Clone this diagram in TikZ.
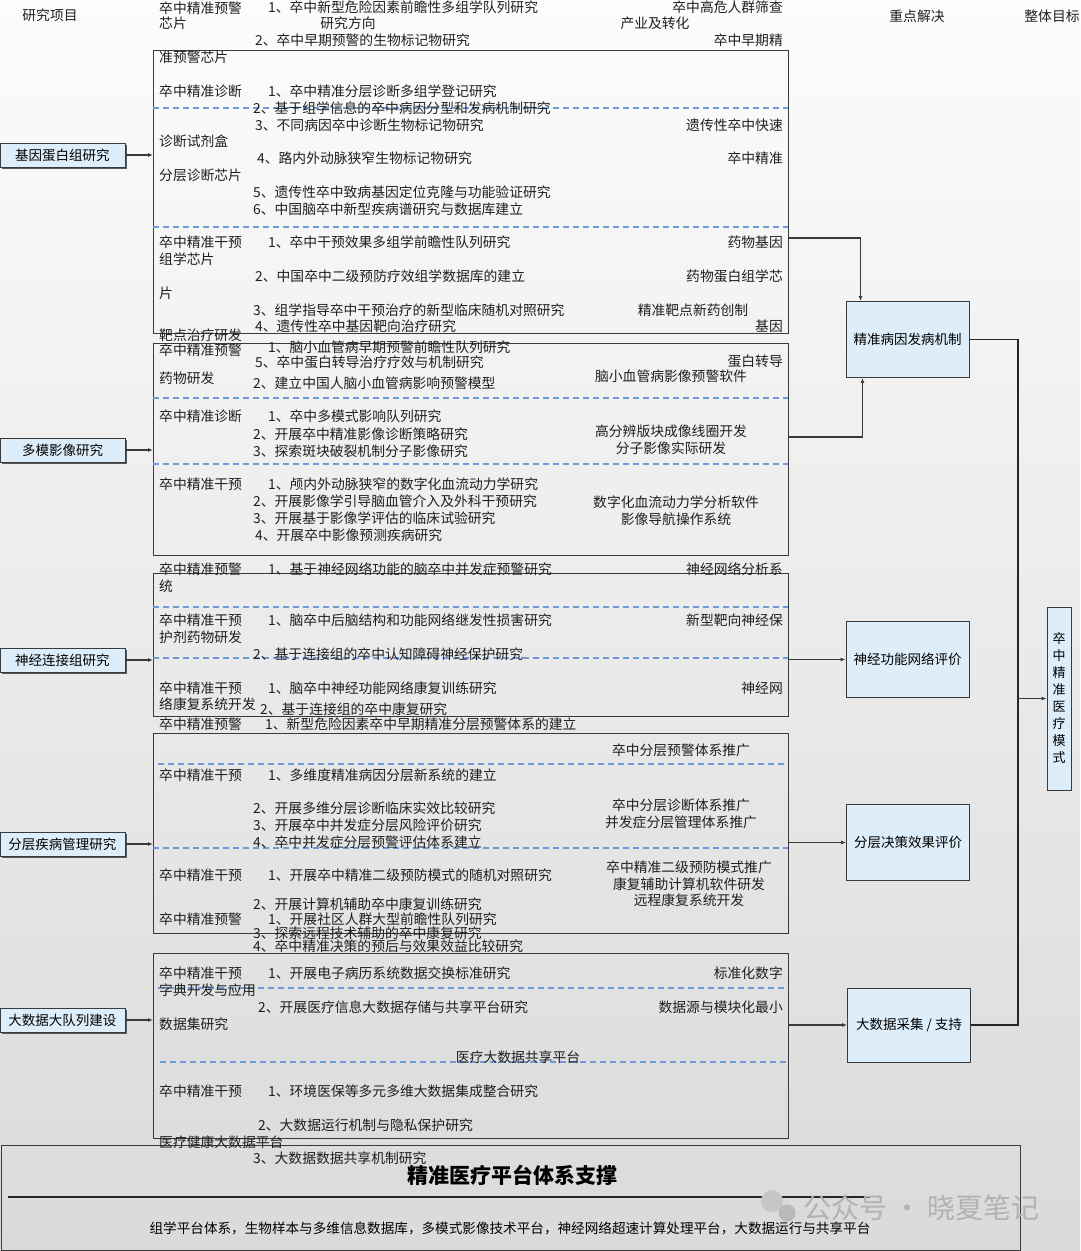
\documentclass[tikz,border=0pt]{standalone}
\usepackage{fontspec}
\setmainfont{Noto Sans CJK SC}
\usetikzlibrary{arrows.meta,shadows}
\definecolor{bgtop}{HTML}{FCFCFC}
\definecolor{bgbot}{HTML}{DADADA}
\definecolor{boxfill}{HTML}{DDEEFA}
\definecolor{dashblue}{HTML}{6E9BD8}
\definecolor{edge}{HTML}{3A3A3A}
\newcommand\mytl[4]{\node[txt,anchor=west] (#1) at (#2,#3) {#4};}
\newcommand\mytr[4]{\node[txt,anchor=east] (#1) at (#2,#3) {#4};}
\newcommand\mytc[4]{\node[txt] (#1) at (#2,#3) {#4};}
\begin{document}
\begin{tikzpicture}[x=1pt,y=-1pt,
  txt/.style={inner sep=0pt, font=\fontsize{13.8}{16}\selectfont, text=black!88},
  bigbox/.style={draw=edge, line width=1.2pt, inner sep=0pt, anchor=north west},
  lbox/.style={draw=edge, fill=boxfill, line width=0.8pt, minimum width=125pt, minimum height=24pt, inner sep=0pt,
     font=\fontsize{13.5}{15}\selectfont, drop shadow={shadow xshift=1.5pt, shadow yshift=-1.5pt, fill=black!65, opacity=1}},
  rbox/.style={draw=edge, fill=boxfill, line width=0.9pt, minimum width=123pt, minimum height=76pt, inner sep=0pt,
     font=\fontsize{13.5}{15}\selectfont},
  dl/.style={draw=dashblue, line width=1.3pt, dash pattern=on 6pt off 4pt},
  arr/.style={draw=edge, line width=1.1pt, -{Latex[length=5pt,width=4pt]}},
  ln/.style={draw=black!85, line width=1.5pt}]
\useasboundingbox (0,0) rectangle (1080,1251);
\shade[top color=bgtop, bottom color=bgbot] (0,0) rectangle (1080,1251);

% helper coordinates
\coordinate (y238) at (0,238);
\coordinate (y437) at (0,437);
\coordinate (vx) at (1018,0);

% header
\mytc{h1}{50}{15}{研究项目}
\mytl{h2}{159}{8}{卒中精准预警}
\mytl{h3}{159}{23}{芯片}
\mytl{h4}{268}{7}{1、卒中新型危险因素前瞻性多组学队列研究}
\mytc{h5}{348}{23}{研究方向}
\mytc{h6}{655}{23}{产业及转化}
\mytr{h7}{783}{7}{卒中高危人群筛查}
\mytc{h8}{917}{16}{重点解决}
\mytc{h9}{1052}{16}{整体目标}
\mytl{h10}{255}{40}{2、卒中早期预警的生物标记物研究}
\mytr{h11}{783}{40}{卒中早期精}

% big boxes
\node[bigbox, minimum width=635pt, minimum height=283pt] (B1) at (153,50) {};
\node[bigbox, minimum width=635pt, minimum height=212pt] (B2) at (153,343) {};
\node[bigbox, minimum width=635pt, minimum height=143pt] (B3) at (153,573) {};
\node[bigbox, minimum width=635pt, minimum height=200pt] (B4) at (153,733) {};
\node[bigbox, minimum width=635pt, minimum height=185pt] (B5) at (153,953) {};

% dashed separators
\draw[dl] (153,108) -- (788,108);
\draw[dl] (153,227) -- (788,227);
\draw[dl] (153,398) -- (788,398);
\draw[dl] (153,464) -- (788,464);
\draw[dl] (153,607) -- (788,607);
\draw[dl] (153,658) -- (788,658);
\draw[dl] (158,764) -- (788,764);
\draw[dl] (153,848) -- (788,848);
\draw[dl] (158,988) -- (788,988);
\draw[dl] (160,1062) -- (788,1062);

% box 1
\mytl{a1}{159}{57}{准预警芯片}
\mytl{a2}{159}{91}{卒中精准诊断}
\mytl{a3}{268}{91}{1、卒中精准分层诊断多组学登记研究}
\mytl{a4}{253}{108}{2、基于组学信息的卒中病因分型和发病机制研究}
\mytl{a5}{255}{125}{3、不同病因卒中诊断生物标记物研究}
\mytr{a6}{783}{125}{遗传性卒中快速}
\mytl{a7}{159}{141}{诊断试剂盒}
\mytl{a8}{257}{158}{4、路内外动脉狭窄生物标记物研究}
\mytr{a9}{783}{158}{卒中精准}
\mytl{a10}{159}{175}{分层诊断芯片}
\mytl{a11}{253}{192}{5、遗传性卒中致病基因定位克隆与功能验证研究}
\mytl{a12}{253}{209}{6、中国脑卒中新型疾病谱研究与数据库建立}
\mytl{a13}{159}{242}{卒中精准干预}
\mytl{a14}{268}{242}{1、卒中干预效果多组学前瞻性队列研究}
\mytr{a15}{783}{242}{药物基因}
\mytl{a16}{159}{259}{组学芯片}
\mytl{a17}{255}{276}{2、中国卒中二级预防疗效组学数据库的建立}
\mytr{a18}{783}{276}{药物蛋白组学芯}
\mytl{a19}{159}{293}{片}
\mytl{a20}{253}{310}{3、组学指导卒中干预治疗的新型临床随机对照研究}
\mytc{a21}{693}{310}{精准靶点新药创制}
\mytl{a22}{255}{326}{4、遗传性卒中基因靶向治疗研究}
\mytr{a23}{783}{326}{基因}

% box 2
\mytl{b1}{159}{335}{靶点治疗研发}
\mytl{b2}{159}{350}{卒中精准预警}
\mytl{b3}{268}{347}{1、脑小血管病早期预警前瞻性队列研究}
\mytl{b4}{255}{362}{5、卒中蛋白转导治疗疗效与机制研究}
\mytr{b5}{783}{361}{蛋白转导}
\mytl{b6}{159}{378}{药物研发}
\mytl{b7}{253}{383}{2、建立中国人脑小血管病影响预警模型}
\mytc{b8}{671}{376}{脑小血管病影像预警软件}
\mytl{b9}{159}{416}{卒中精准诊断}
\mytl{b10}{268}{416}{1、卒中多模式影响队列研究}
\mytl{b11}{253}{434}{2、开展卒中精准影像诊断策略研究}
\mytc{b12}{671}{431}{高分辨版块成像线圈开发}
\mytl{b13}{253}{451}{3、探索斑块破裂机制分子影像研究}
\mytc{b14}{671}{448}{分子影像实际研发}
\mytl{b15}{159}{484}{卒中精准干预}
\mytl{b16}{268}{484}{1、颅内外动脉狭窄的数字化血流动力学研究}
\mytl{b17}{253}{501}{2、开展影像学引导脑血管介入及外科干预研究}
\mytc{b18}{676}{502}{数字化血流动力学分析软件}
\mytl{b19}{253}{518}{3、开展基于影像学评估的临床试验研究}
\mytc{b20}{676}{519}{影像导航操作系统}
\mytl{b21}{255}{535}{4、开展卒中影像预测疾病研究}

% box 3
\mytl{c1}{159}{569}{卒中精准预警}
\mytl{c2}{268}{569}{1、基于神经网络功能的脑卒中并发症预警研究}
\mytr{c3}{783}{569}{神经网络分析系}
\mytl{c4}{159}{586}{统}
\mytl{c5}{159}{620}{卒中精准干预}
\mytl{c6}{268}{620}{1、脑卒中后脑结构和功能网络继发性损害研究}
\mytr{c7}{783}{620}{新型靶向神经保}
\mytl{c8}{159}{637}{护剂药物研发}
\mytl{c9}{253}{654}{2、基于连接组的卒中认知障碍神经保护研究}
\mytl{c10}{159}{688}{卒中精准干预}
\mytl{c11}{268}{688}{1、脑卒中神经功能网络康复训练研究}
\mytr{c12}{783}{688}{神经网}
\mytl{c13}{159}{704}{络康复系统开发}
\mytl{c14}{159}{724}{卒中精准预警}
\mytl{c15}{260}{709}{2、基于连接组的卒中康复研究}
\mytl{c16}{265}{724}{1、新型危险因素卒中早期精准分层预警体系的建立}

% box 4
\mytc{d1}{681}{750}{卒中分层预警体系推广}
\mytl{d2}{159}{775}{卒中精准干预}
\mytl{d3}{268}{775}{1、多维度精准病因分层新系统的建立}
\mytl{d4}{253}{808}{2、开展多维分层诊断临床实效比较研究}
\mytc{d5}{681}{805}{卒中分层诊断体系推广}
\mytl{d6}{253}{825}{3、开展卒中并发症分层风险评价研究}
\mytc{d7}{681}{822}{并发症分层管理体系推广}
\mytl{d8}{253}{842}{4、卒中并发症分层预警评估体系建立}
\mytl{d9}{159}{875}{卒中精准干预}
\mytl{d10}{268}{875}{1、开展卒中精准二级预防模式的随机对照研究}
\mytc{d11}{689}{867}{卒中精准二级预防模式推广}
\mytc{d12}{689}{884}{康复辅助计算机软件研发}
\mytc{d13}{689}{900}{远程康复系统开发}
\mytl{d14}{253}{904}{2、开展计算机辅助卒中康复训练研究}
\mytl{d15}{159}{919}{卒中精准预警}
\mytl{d16}{268}{919}{1、开展社区人群大型前瞻性队列研究}
\mytl{d17}{253}{933}{3、探索远程技术辅助的卒中康复研究}
\mytl{d18}{253}{946}{4、卒中精准决策的预后与效果效益比较研究}

% box 5
\mytl{e1}{159}{973}{卒中精准干预}
\mytl{e2}{268}{973}{1、开展电子病历系统数据交换标准研究}
\mytr{e3}{783}{973}{标准化数字}
\mytl{e4}{159}{990}{字典开发与应用}
\mytl{e5}{258}{1007}{2、开展医疗信息大数据存储与共享平台研究}
\mytr{e6}{783}{1007}{数据源与模块化最小}
\mytl{e7}{159}{1024}{数据集研究}
\mytc{e8}{518}{1057}{医疗大数据共享平台}
\mytl{e9}{159}{1091}{卒中精准干预}
\mytl{e10}{268}{1091}{1、环境医保等多元多维大数据集成整合研究}
\mytl{e11}{258}{1125}{2、大数据运行机制与隐私保护研究}

% bottom platform box
\node[bigbox, line width=1pt, minimum width=1019pt, minimum height=105pt] (P) at (1,1145) {};
\mytl{e12}{159}{1142}{医疗健康大数据平台}
\mytl{e13}{253}{1158}{3、大数据数据共享机制研究}
\node[inner sep=0pt, font=\fontsize{21}{24}\selectfont\bfseries] (pt) at (512,1175) {精准医疗平台体系支撑};
\draw[ln] (8,1197) -- (870,1197);
\node[inner sep=0pt, font=\fontsize{13.6}{15}\selectfont] (ps) at (510,1228) {组学平台体系，生物样本与多维信息数据库，多模式影像技术平台，神经网络超速计算处理平台，大数据运行与共享平台};
% watermark
\fill[gray!45] (772,1201) circle (11pt);
\fill[gray!55] (787,1213) circle (8.5pt);
\node[inner sep=0pt, text=gray!60, font=\fontsize{28}{30}\selectfont, anchor=west] (wm) at (803,1208) {公众号 · 晓夏笔记};

% left boxes
\node[lbox] (L1) at (62.5,155) {基因蛋白组研究};
\node[lbox] (L2) at (62.5,450) {多模影像研究};
\node[lbox] (L3) at (62.5,660) {神经连接组研究};
\node[lbox] (L4) at (62.5,844) {分层疾病管理研究};
\node[lbox] (L5) at (62.5,1020) {大数据大队列建设};

% right boxes
\node[rbox] (R1) at (907.5,339.5) {精准病因发病机制};
\node[rbox] (R2) at (907.5,659.5) {神经功能网络评价};
\node[rbox] (R3) at (908,842.5) {分层决策效果评价};
\node[rbox, minimum height=74pt] (R4) at (909,1025) {大数据采集 / 支持};
\node[draw=edge, fill=boxfill, line width=0.9pt, minimum width=24pt, minimum height=183pt, inner sep=0pt,
      align=center, font=\fontsize{13}{17}\selectfont] (M) at (1059,698.5) {卒\\中\\精\\准\\医\\疗\\模\\式};

% connectors
\draw[arr] (L1.east) -- (L1.east -| B1.west);
\draw[arr] (L2.east) -- (L2.east -| B2.west);
\draw[arr] (L3.east) -- (L3.east -| B3.west);
\draw[arr] (L4.east) -- (L4.east -| B4.west);
\draw[arr] (L5.east) -- (L5.east -| B5.west);
\draw[arr] (B1.east |- y238) -| ([xshift=-47pt]R1.north);
\draw[arr] (B2.east |- y437) -| ([xshift=-45pt]R1.south);
\draw[arr] (B3.east |- R2.west) -- (R2.west);
\draw[arr] (B4.east |- R3.west) -- (R3.west);
\draw[arr] (B5.east |- R4.west) -- (R4.west);
\draw[ln] (R1.east) -- (R1.east -| vx) -- (R4.east -| vx) -- (R4.east);
\draw[arr, line width=1.5pt] (vx |- M.west) -- (M.west);
\end{tikzpicture}
\end{document}
